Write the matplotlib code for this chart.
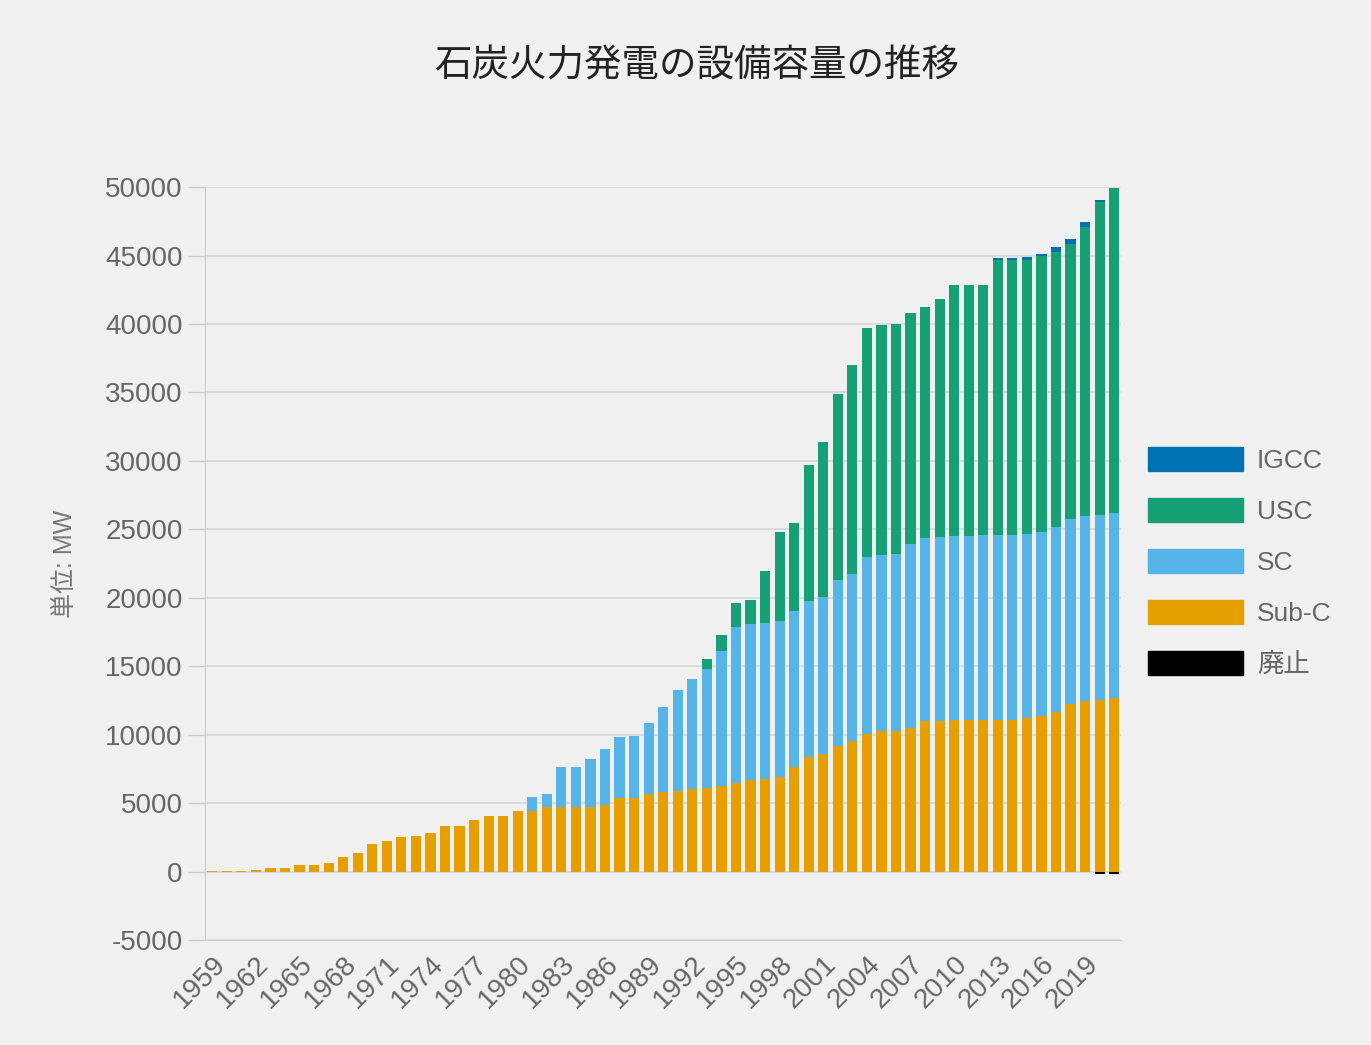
import matplotlib.pyplot as plt
import matplotlib.patches as mpatches
import numpy as np

plt.rcParams['font.family'] = ['Liberation Sans', 'Noto Sans CJK JP', 'DejaVu Sans']
plt.rcParams['axes.unicode_minus'] = False

years = list(range(1959, 2022))

# MW per category (stacked components)
sub_c = [50, 50, 60, 120, 290, 290, 460, 460, 630, 1070,
         1340, 2020, 2260, 2500, 2620, 2850, 3290, 3290, 3770, 4090,
         4090, 4450, 4450, 4700, 4700, 4700, 4700, 4870, 5400, 5400,
         5660, 5800, 5900, 6010, 6120, 6280, 6470, 6660, 6740, 6900,
         7600, 8330, 8600, 9140, 9570, 10050, 10250, 10260, 10520, 10980,
         10980, 11050, 11050, 11050, 11050, 11080, 11180, 11340, 11670, 12250,
         12480, 12550, 12710]
sc = [0] * 22 + [1000, 990, 2920, 2920, 3520, 4060, 4460, 4530,
                 5220, 6200, 7390, 8090, 8700, 9810, 11400, 11450, 11450, 11430,
                 11400, 11430, 11480, 12150, 12180, 12940, 12900, 12940, 13400, 13370,
                 13430, 13460, 13460, 13530, 13530, 13500, 13460, 13460, 13490, 13470,
                 13470, 13500, 13500]
usc = [0] * 34 + [730, 1210, 1780, 1760, 3750, 6470,
                  6470, 9940, 11270, 13610, 15260, 16710, 16800, 16800, 16900, 16890,
                  17420, 18370, 18370, 18300, 20090, 20090, 20060, 20130, 20070, 20100,
                  21110, 22870, 23690]
igcc = [0] * 54 + [170, 170, 170, 200, 390, 390, 360, 160, 0]
retired = [0] * 61 + [-200, -200]

c_sub = '#E69F00'
c_sc = '#56B4E9'
c_usc = '#16A075'
c_igcc = '#0072B2'
c_ret = '#000000'

fig = plt.figure(figsize=(13.71, 10.45), dpi=100)
fig.patch.set_facecolor('#f0f0f0')
ax = fig.add_axes([0.1495, 0.1005, 0.6685, 0.7205])
ax.set_facecolor('#f0f0f0')

x = np.array(years)
w = 0.7
b1 = np.array(sub_c)
b2 = b1 + np.array(sc)
b3 = b2 + np.array(usc)
ax.bar(x, sub_c, w, color=c_sub, zorder=3)
ax.bar(x, sc, w, bottom=b1, color=c_sc, zorder=3)
ax.bar(x, usc, w, bottom=b2, color=c_usc, zorder=3)
ax.bar(x, igcc, w, bottom=b3, color=c_igcc, zorder=3)
ax.bar(x, retired, w, color=c_ret, zorder=3)

ax.set_xlim(1958.5, 2021.5)
ax.set_ylim(-5000, 50000)
ax.set_yticks(range(-5000, 50001, 5000))
ax.set_xticks(years[::3])
ax.set_xticklabels([str(y) for y in years[::3]], rotation=45, ha='right',
                   rotation_mode='anchor')
ax.tick_params(axis='y', colors='#cccccc', labelcolor='#666666', labelsize=20,
               length=12, width=1, pad=4)
ax.tick_params(axis='x', length=0, labelcolor='#666666', labelsize=20, pad=8)
ax.grid(axis='y', color='#d6d6d6', linewidth=1.2, zorder=0)
for s in ['top', 'right']:
    ax.spines[s].set_visible(False)
ax.spines['left'].set_color('#cccccc')
ax.spines['bottom'].set_color('#cccccc')

ax.set_ylabel('単位: MW', fontsize=18, color='#777777', labelpad=20)

fig.text(0.508, 0.937, '石炭火力発電の設備容量の推移', ha='center', va='center',
         fontsize=27, color='#222222', family=['Noto Sans CJK JP', 'DejaVu Sans'])

handles = [mpatches.Patch(color=c_igcc, label='IGCC'),
           mpatches.Patch(color=c_usc, label='USC'),
           mpatches.Patch(color=c_sc, label='SC'),
           mpatches.Patch(color=c_sub, label='Sub-C'),
           mpatches.Patch(color=c_ret, label='廃止')]
leg = fig.legend(handles=handles, loc='center left', bbox_to_anchor=(0.837, 0.462),
                 frameon=False, fontsize=19, handlelength=3.6, handleheight=1.0,
                 labelspacing=0.95, handletextpad=0.55, borderpad=0, borderaxespad=0)
for t in leg.get_texts():
    t.set_color('#666666')

plt.savefig('out.png', dpi=100, facecolor=fig.get_facecolor())
plt.close()
